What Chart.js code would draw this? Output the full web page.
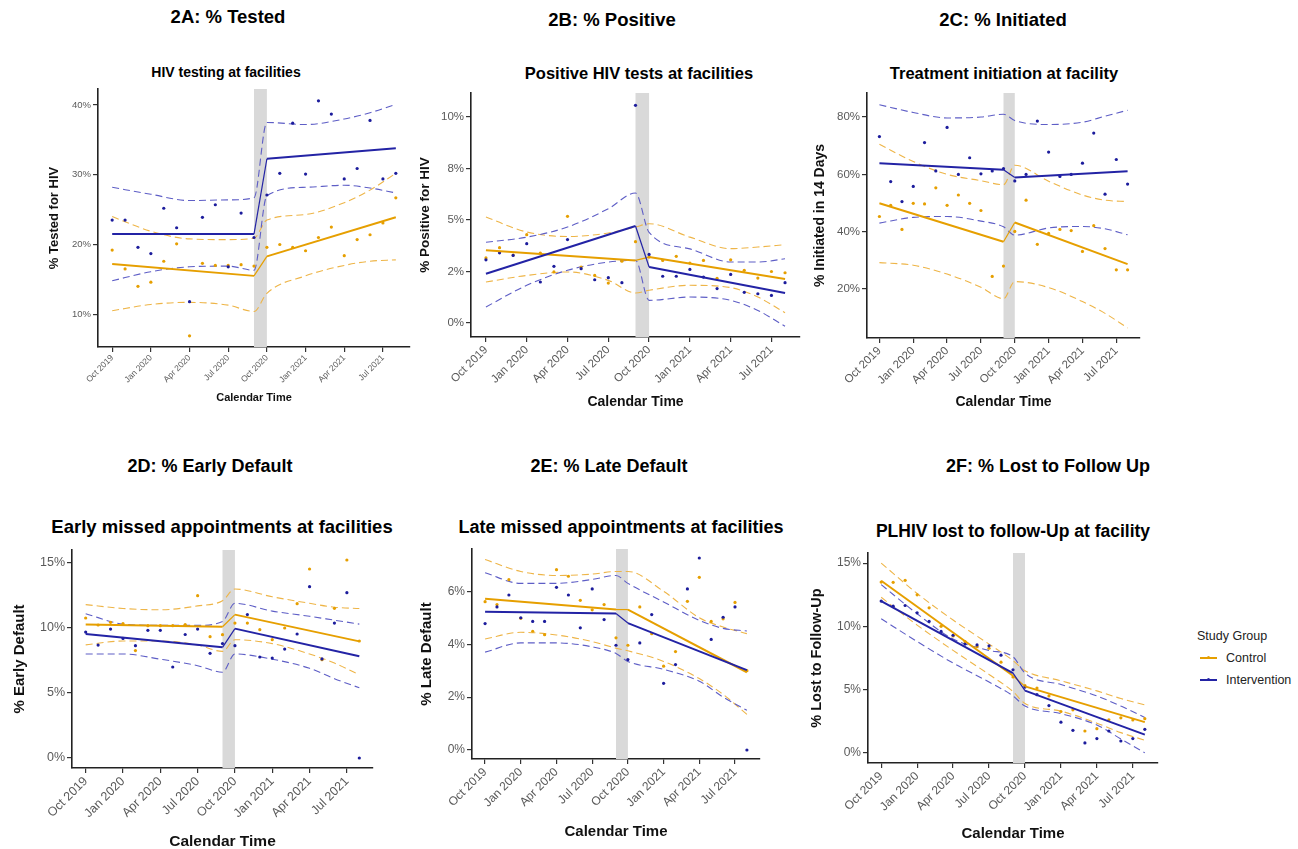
<!DOCTYPE html>
<html>
<head>
<meta charset="utf-8">
<script src="https://cdn.jsdelivr.net/npm/chart.js@4"></script>
<style>
body { margin: 0; background: #fff; font-family: "Liberation Sans", Arial, sans-serif; }
#page { position: relative; width: 1298px; height: 849px; overflow: hidden; background: #fff; }
.t { position: absolute; font-weight: bold; color: #000; white-space: nowrap; transform: translate(-50%, -50%); }
.lg { position: absolute; color: #222; white-space: nowrap; transform: translateY(-50%); font-size: 12.5px; }
.sw { position: absolute; width: 17px; height: 2px; }
.dot { position: absolute; left: 7px; top: -1px; width: 3px; height: 3px; border-radius: 2px; }
canvas { position: absolute; }
</style>
</head>
<body>
<div id="page">
  <div class="t" style="left:228px;top:17px;font-size:18.5px">2A: % Tested</div>
  <div class="t" style="left:226px;top:72px;font-size:14px">HIV testing at facilities</div>
  <div class="t" style="left:612px;top:20px;font-size:18.5px">2B: % Positive</div>
  <div class="t" style="left:639px;top:73px;font-size:16.5px">Positive HIV tests at facilities</div>
  <div class="t" style="left:1003px;top:20px;font-size:18.5px">2C: % Initiated</div>
  <div class="t" style="left:1004px;top:73px;font-size:16.5px">Treatment initiation at facility</div>
  <div class="t" style="left:210px;top:466px;font-size:18px">2D: % Early Default</div>
  <div class="t" style="left:222px;top:527px;font-size:18.5px">Early missed appointments at facilities</div>
  <div class="t" style="left:609px;top:466px;font-size:18px">2E: % Late Default</div>
  <div class="t" style="left:621px;top:527px;font-size:18px">Late missed appointments at facilities</div>
  <div class="t" style="left:1048px;top:466px;font-size:18px">2F: % Lost to Follow Up</div>
  <div class="t" style="left:1013px;top:531px;font-size:17.5px">PLHIV lost to follow-Up at facility</div>

  <div class="lg" style="left:1197px;top:636px;font-size:12.5px">Study Group</div>
  <div class="sw" style="left:1200px;top:657px;background:#E69F00"><div class="dot" style="background:#E69F00"></div></div>
  <div class="lg" style="left:1226px;top:658px">Control</div>
  <div class="sw" style="left:1200px;top:679px;background:#2323A5"><div class="dot" style="background:#2323A5"></div></div>
  <div class="lg" style="left:1226px;top:680px">Intervention</div>
</div>
<script>
// month index: 0 = Oct 2019 ... 22 = Aug 2021
const MONTHS = [0,1,2,3,4,5,6,7,8,9,10,11,12,13,14,15,16,17,18,19,20,21,22];
const FIT_MONTHS = [0, 11, 12, 22];
const CI_MONTHS = [0, 3, 6, 9, 11, 12, 15, 18, 20, 22];
const X_TICKS = [0, 3, 6, 9, 12, 15, 18, 21];
const X_LABELS = ["Oct 2019", "Jan 2020", "Apr 2020", "Jul 2020", "Oct 2020", "Jan 2021", "Apr 2021", "Jul 2021"];

// 2A tested
const testCtrlPts = [19.2,16.5,14.0,14.6,17.6,20.1,6.9,17.3,17.0,17.0,17.1,16.9,19.6,20.0,19.6,19.1,21.0,22.5,18.4,20.7,21.4,23.1,26.7];
const testIntPts = [23.5,23.5,19.6,18.7,25.2,22.4,11.8,23.9,25.7,16.8,24.5,21.0,27.1,30.2,37.4,30.1,40.6,38.7,29.4,30.9,37.8,29.4,30.2];
const testCtrlFit = [17.2, 15.5, 18.3, 23.9];
const testIntFit = [21.5, 21.5, 32.3, 33.8];
const testCtrlHi = [24.0,21.9,20.8,20.7,20.9,23.5,24.3,26.0,27.8,30.2];
const testCtrlLo = [10.5,11.4,11.7,11.3,10.4,13.0,15.5,17.0,17.6,17.8];
const testIntHi = [28.2,27.2,26.3,26.4,26.7,37.5,37.2,38.0,38.9,40.1];
const testIntLo = [14.8,16.1,16.8,16.9,16.3,27.0,28.2,28.5,28.1,27.4];

// 2B positive
const posCtrlPts = [3.16,3.66,3.3,4.29,3.4,2.48,5.18,2.72,2.31,1.94,3.0,3.95,3.2,3.04,3.24,2.91,3.04,2.17,3.07,2.56,2.18,2.5,2.44];
const posIntPts = [3.07,3.41,3.28,3.85,1.99,2.75,4.05,2.64,2.1,2.2,1.96,10.57,3.33,2.27,2.27,2.6,2.23,1.67,2.36,1.49,1.42,1.34,1.96];
const posCtrlFit = [3.53, 3.04, 3.2, 2.14];
const posIntFit = [2.39, 4.71, 2.72, 1.46];
const posCtrlHi = [5.15,4.42,4.2,4.37,4.66,4.82,4.17,3.61,3.69,3.8];
const posCtrlLo = [1.99,2.31,2.48,2.07,1.46,1.59,1.83,1.72,1.26,0.5];
const posIntHi = [3.92,4.17,4.66,5.55,6.31,4.4,3.6,2.96,2.96,3.12];
const posIntLo = [0.78,1.83,2.56,2.96,3.04,1.1,1.26,1.1,0.61,-0.16];

// 2C initiated
const initCtrlPts = [45.3,49.2,40.8,49.9,49.7,55.3,49.2,52.8,49.9,47.4,24.4,28.0,40.1,51.0,35.6,39.4,40.8,40.4,33.1,42.1,34.1,26.7,26.7];
const initIntPts = [73.2,57.5,50.5,55.8,71.1,61.2,76.4,60.0,65.8,60.2,61.2,62.0,57.7,60.0,78.6,67.8,59.3,60.0,63.9,74.4,53.1,65.2,56.6];
const initCtrlFit = [49.9, 36.5, 43.2, 28.7];
const initIntFit = [63.9, 61.6, 58.9, 61.1];
const initCtrlHi = [70.5,64.5,60.0,57.8,56.4,63.2,57.6,52.8,51.0,50.5];
const initCtrlLo = [29.2,28.3,25.2,20.6,16.6,22.6,20.5,15.6,11.5,6.4];
const initIntHi = [84.3,81.6,79.7,80.0,81.0,78.8,77.4,78.2,80.3,82.4];
const initIntLo = [43.0,45.0,45.3,43.7,41.7,38.8,41.3,41.8,41.0,38.9];

// 2D early default
const earlyCtrlPts = [10.77,10.23,10.44,10.33,8.26,10.18,10.18,10.18,10.26,12.49,9.33,9.49,10.38,10.38,9.87,9.1,10.0,11.87,14.54,7.56,11.51,15.23,9.0];
const earlyIntPts = [9.69,8.69,9.92,9.2,8.64,9.82,9.82,7.0,9.5,9.92,8.05,8.8,8.64,11.03,7.77,7.69,8.38,9.54,13.18,7.62,10.38,12.72,0.0];
const earlyCtrlFit = [10.26, 10.1, 11.03, 8.97];
const earlyIntFit = [9.54, 8.51, 9.95, 7.82];
const earlyCtrlHi = [11.8,11.5,11.4,11.7,12.1,13.0,12.4,11.9,11.6,11.5];
const earlyCtrlLo = [8.7,9.0,9.0,8.7,8.2,9.1,8.8,8.0,7.3,6.4];
const earlyIntHi = [11.1,10.3,10.2,10.2,10.5,11.9,11.3,10.9,10.6,10.3];
const earlyIntLo = [8.0,8.0,7.6,7.1,6.6,8.0,7.6,6.9,6.1,5.4];

// 2E late default
const lateCtrlPts = [5.61,5.5,6.44,4.98,4.49,4.36,6.82,6.57,5.66,5.3,5.5,4.24,3.96,5.41,4.4,3.17,3.72,5.62,6.53,4.86,4.96,5.58,3.0];
const lateIntPts = [4.78,5.41,5.86,5.0,4.86,4.86,6.15,5.86,4.62,6.09,4.93,3.96,3.42,4.05,5.12,2.52,3.23,6.09,7.26,4.18,5.02,5.41,0.0];
const lateCtrlFit = [5.72, 5.31, 5.31, 2.94];
const lateIntFit = [5.23, 5.16, 4.8, 3.02];
const lateCtrlHi = [7.2,6.75,6.6,6.65,6.75,6.75,6.0,5.0,4.65,4.4];
const lateCtrlLo = [4.2,4.45,4.35,4.1,3.85,3.75,3.35,2.7,2.1,1.35];
const lateIntHi = [6.7,6.3,6.3,6.45,6.6,6.3,5.6,4.9,4.6,4.5];
const lateIntLo = [3.7,4.05,4.05,3.9,3.65,3.35,3.05,2.6,2.0,1.5];

// 2F lost to follow-up
const ltfuCtrlPts = [13.5,13.48,13.64,12.49,11.47,10.0,9.24,8.8,8.4,8.27,7.17,6.0,5.31,5.13,4.5,3.27,3.4,1.73,1.91,2.62,2.77,2.6,2.7];
const ltfuIntPts = [12.0,11.6,11.65,11.07,10.39,9.6,9.3,8.6,8.53,8.46,7.72,6.57,5.2,4.6,3.74,2.43,1.78,0.79,1.13,1.73,0.94,1.13,1.86];
const ltfuCtrlFit = [13.61, 6.1, 5.26, 2.43];
const ltfuIntFit = [11.99, 6.31, 4.92, 1.44];
const ltfuCtrlHi = [15.0,12.6,10.5,8.6,7.3,6.5,5.7,4.9,4.3,3.8];
const ltfuCtrlLo = [12.3,10.1,8.1,6.2,4.85,3.9,3.3,2.35,1.6,1.0];
const ltfuIntHi = [13.3,11.0,9.0,8.1,7.6,6.3,5.4,4.5,3.7,2.8];
const ltfuIntLo = [10.6,8.8,7.1,5.6,4.5,3.7,3.1,2.2,1.1,0.0];

const ORANGE = "#E69F00";
const BLUE = "#2323A5";
const ORANGE_CI = "#EEB548";
const BLUE_CI = "#5E5EC6";
const FONT = "'Liberation Sans', Arial, sans-serif";

const page = document.getElementById("page");

// grey band between the two periods
const bandPlugin = {
    id: "band",
    beforeDatasetsDraw(chart) {
        const x = chart.scales.x, a = chart.chartArea, c = chart.ctx;
        const x0 = x.getPixelForValue(11), x1 = x.getPixelForValue(12);
        c.save();
        c.fillStyle = "#D9D9D9";
        c.fillRect(x0, a.top, x1 - x0, a.bottom - a.top);
        c.restore();
    }
};

function xy(xs, ys) {
    return xs.map((m, i) => ({ x: m, y: ys[i] }));
}

function makeChart(p) {
    const cv = document.createElement("canvas");
    const w = (p.area.r - p.area.l) + p.wy + 4;
    const h = (p.area.b - p.area.t) + 10 + p.hx;
    cv.width = w;
    cv.height = h;
    cv.style.left = (p.area.l - p.wy) + "px";
    cv.style.top = (p.area.t - 10) + "px";
    cv.style.width = w + "px";
    cv.style.height = h + "px";
    page.appendChild(cv);

    const fitLine = (ys, col) => ({
        data: xy(FIT_MONTHS, ys), showLine: true, borderColor: col, borderWidth: 2,
        pointRadius: 0, fill: false,
        segment: { borderWidth: ctx => ctx.p0.parsed.x === 11 ? 1.2 : 2 }
    });
    const ciLine = (ys, col) => ({
        data: xy(CI_MONTHS, ys), showLine: true, borderColor: col, borderWidth: 1.1,
        borderDash: [7, 4], pointRadius: 0, fill: false, cubicInterpolationMode: "monotone"
    });
    const dots = (ys, col) => ({
        data: xy(MONTHS, ys), showLine: false, pointRadius: 1.6, pointBorderWidth: 0,
        pointBackgroundColor: col, backgroundColor: col, borderColor: col
    });

    new Chart(cv, {
        type: "scatter",
        data: {
            datasets: [
                fitLine(p.intFit, BLUE),
                fitLine(p.ctrlFit, ORANGE),
                dots(p.intPts, "#1C1C9C"),
                dots(p.ctrlPts, ORANGE),
                ciLine(p.intHi, BLUE_CI),
                ciLine(p.intLo, BLUE_CI),
                ciLine(p.ctrlHi, ORANGE_CI),
                ciLine(p.ctrlLo, ORANGE_CI)
            ]
        },
        options: {
            responsive: false,
            animation: false,
            devicePixelRatio: 1,
            events: [],
            layout: { padding: { top: 10, right: 4, left: 0, bottom: 0 } },
            plugins: { legend: { display: false }, tooltip: { enabled: false } },
            scales: {
                x: {
                    type: "linear",
                    min: -1.1,
                    max: 23.1,
                    afterBuildTicks: s => { s.ticks = X_TICKS.map(v => ({ value: v })); },
                    afterFit: s => { s.height = p.hx; },
                    border: { display: true, color: "#222", width: 1.6 },
                    grid: { display: true, drawOnChartArea: false, drawTicks: true, tickLength: 5, color: "#333", lineWidth: 1.2 },
                    ticks: {
                        autoSkip: false, minRotation: 45, maxRotation: 45, padding: 1,
                        color: "#5a5a5a", font: { family: FONT, size: p.xTick },
                        callback: (v, i) => X_LABELS[i]
                    },
                    title: {
                        display: true, text: "Calendar Time", color: "#111", padding: 0,
                        font: { family: FONT, size: p.xTitle, weight: "bold" }
                    }
                },
                y: {
                    type: "linear",
                    min: p.yMin,
                    max: p.yMax,
                    afterBuildTicks: s => { s.ticks = p.yTicks.map(v => ({ value: v })); },
                    afterFit: s => { s.width = p.wy; },
                    border: { display: true, color: "#222", width: 1.6 },
                    grid: { display: true, drawOnChartArea: false, drawTicks: true, tickLength: 5, color: "#333", lineWidth: 1.2 },
                    ticks: {
                        padding: 2, color: "#5a5a5a", font: { family: FONT, size: p.yTick },
                        callback: (v, i) => p.yLabels[i]
                    },
                    title: {
                        display: true, text: p.yTitle, color: "#111", padding: 0,
                        font: { family: FONT, size: p.yTitleSize, weight: "bold" }
                    }
                }
            }
        },
        plugins: [bandPlugin]
    });
}

makeChart({
    area: { l: 98, t: 89, r: 410, b: 347 }, wy: 51, hx: 58,
    yMin: 5.3, yMax: 42.3, yTicks: [10, 20, 30, 40], yLabels: ["10%", "20%", "30%", "40%"],
    yTitle: "% Tested for HIV", yTitleSize: 13, xTitle: 11, xTick: 8.5, yTick: 9.5,
    ctrlPts: testCtrlPts, intPts: testIntPts, ctrlFit: testCtrlFit, intFit: testIntFit,
    ctrlHi: testCtrlHi, ctrlLo: testCtrlLo, intHi: testIntHi, intLo: testIntLo
});
makeChart({
    area: { l: 471, t: 93, r: 800, b: 337 }, wy: 54, hx: 74,
    yMin: -0.68, yMax: 11.17, yTicks: [0, 2.5, 5, 7.5, 10], yLabels: ["0%", "2%", "5%", "8%", "10%"],
    yTitle: "% Positive for HIV", yTitleSize: 13.5, xTitle: 14, xTick: 11.5, yTick: 11.5,
    ctrlPts: posCtrlPts, intPts: posIntPts, ctrlFit: posCtrlFit, intFit: posIntFit,
    ctrlHi: posCtrlHi, ctrlLo: posCtrlLo, intHi: posIntHi, intLo: posIntLo
});
makeChart({
    area: { l: 867, t: 93, r: 1140, b: 338 }, wy: 55, hx: 73,
    yMin: 2.9, yMax: 88.4, yTicks: [20, 40, 60, 80], yLabels: ["20%", "40%", "60%", "80%"],
    yTitle: "% Initiated in 14 Days", yTitleSize: 14, xTitle: 14, xTick: 11.5, yTick: 11.5,
    ctrlPts: initCtrlPts, intPts: initIntPts, ctrlFit: initCtrlFit, intFit: initIntFit,
    ctrlHi: initCtrlHi, ctrlLo: initCtrlLo, intHi: initIntHi, intLo: initIntLo
});
makeChart({
    area: { l: 72, t: 550, r: 373, b: 768 }, wy: 61, hx: 83,
    yMin: -0.77, yMax: 16.0, yTicks: [0, 5, 10, 15], yLabels: ["0%", "5%", "10%", "15%"],
    yTitle: "% Early Default", yTitleSize: 15, xTitle: 15.5, xTick: 12.5, yTick: 12.5,
    ctrlPts: earlyCtrlPts, intPts: earlyIntPts, ctrlFit: earlyCtrlFit, intFit: earlyIntFit,
    ctrlHi: earlyCtrlHi, ctrlLo: earlyCtrlLo, intHi: earlyIntHi, intLo: earlyIntLo
});
makeChart({
    area: { l: 472, t: 549, r: 760, b: 759 }, wy: 54, hx: 82,
    yMin: -0.34, yMax: 7.6, yTicks: [0, 2, 4, 6], yLabels: ["0%", "2%", "4%", "6%"],
    yTitle: "% Late Default", yTitleSize: 15, xTitle: 15, xTick: 12, yTick: 12,
    ctrlPts: lateCtrlPts, intPts: lateIntPts, ctrlFit: lateCtrlFit, intFit: lateIntFit,
    ctrlHi: lateCtrlHi, ctrlLo: lateCtrlLo, intHi: lateIntHi, intLo: lateIntLo
});
makeChart({
    area: { l: 868, t: 553, r: 1158, b: 763 }, wy: 60, hx: 80,
    yMin: -0.8, yMax: 15.8, yTicks: [0, 5, 10, 15], yLabels: ["0%", "5%", "10%", "15%"],
    yTitle: "% Lost to Follow-Up", yTitleSize: 14.5, xTitle: 15, xTick: 12, yTick: 12,
    ctrlPts: ltfuCtrlPts, intPts: ltfuIntPts, ctrlFit: ltfuCtrlFit, intFit: ltfuIntFit,
    ctrlHi: ltfuCtrlHi, ctrlLo: ltfuCtrlLo, intHi: ltfuIntHi, intLo: ltfuIntLo
});
</script>
</body>
</html>
